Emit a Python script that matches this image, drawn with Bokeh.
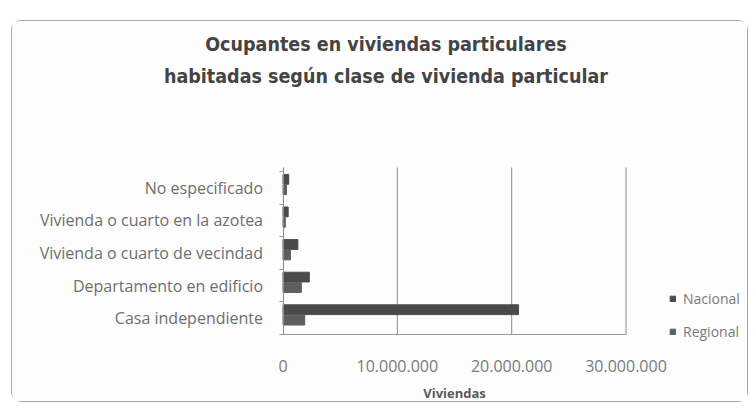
from bokeh.plotting import figure
from bokeh.models import Range1d, FixedTicker, Legend, LegendItem, Label, ColumnDataSource
from bokeh.transform import dodge
from bokeh.embed import file_html
from bokeh.resources import INLINE

# ---- data ----
categories = ["Casa independiente", "Departamento en edificio",
              "Vivienda o cuarto de vecindad", "Vivienda o cuarto en la azotea",
              "No especificado"]
nacional = [20600000, 2300000, 1300000, 450000, 500000]
regional = [1900000, 1600000, 650000, 200000, 300000]
x_ticks = [0, 10000000, 20000000, 30000000]
x_tick_labels = ["0", "10.000.000", "20.000.000", "30.000.000"]
series_names = ["Nacional", "Regional"]
title_lines = ["Ocupantes en viviendas particulares",
               "habitadas según clase de vivienda particular"]
x_axis_title = "Viviendas"

# ---- view settings (frame fills the whole canvas; axes sit at fixed locations) ----
X_VIEW = (-23660000, 40800000)
Y_VIEW = (-2.617, 9.10)
WALL_TOP = 4.62            # top of the plot wall (category units)
W, H = 737, 382

pos = list(range(len(categories)))
src = ColumnDataSource(dict(y=pos, nac=nacional, reg=regional))

p = figure(width=W, height=H, output_backend="svg", toolbar_location=None,
           y_range=Range1d(*Y_VIEW), x_range=Range1d(*X_VIEW),
           min_border_left=0, min_border_right=0, min_border_top=0,
           min_border_bottom=0, title=None)
p.margin = (20, 0, 0, 11)
p.styles = {"border": "1.5px solid #a8a8a8", "border-radius": "10px",
            "background-color": "#fdfdfd"}
p.background_fill_color = "#fdfdfd"
p.border_fill_color = "#fdfdfd"
p.outline_line_color = None

# vertical grid lines on the back wall
p.segment(x0=x_ticks[1:], x1=x_ticks[1:], y0=-0.5, y1=WALL_TOP,
          line_color="#8c8c8c", line_width=1)

r_nac = p.hbar(y=dodge("y", 0.26), right="nac", left=0, height=0.3,
               source=src, fill_color="#4a4a4a", line_color="#4a4a4a")
r_reg = p.hbar(y=dodge("y", -0.06), right="reg", left=0, height=0.3,
               source=src, fill_color="#5e5e5e", line_color="#5e5e5e")

# x axis
p.xaxis.fixed_location = -0.5
p.xaxis.ticker = FixedTicker(ticks=x_ticks)
p.xaxis.bounds = (x_ticks[0], x_ticks[-1])
p.xaxis.major_label_overrides = {t: l for t, l in zip(x_ticks, x_tick_labels)}
p.xaxis.major_tick_line_color = None
p.xaxis.minor_tick_line_color = None
p.xaxis.major_tick_out = 0
p.xaxis.major_label_standoff = 26
p.xaxis.major_label_text_font = "Open Sans"
p.xaxis.major_label_text_font_size = "16px"
p.xaxis.major_label_text_color = "#7a7a7a"
p.xaxis.axis_line_color = "#9a9a9a"

# axis title, centred under the 0..30M span
p.add_layout(Label(x=(x_ticks[0] + x_ticks[-1]) / 2, y=-2.29, text=x_axis_title,
                   text_align="center", text_baseline="middle",
                   text_font="Open Sans", text_font_style="bold",
                   text_font_size="13px", text_color="#5a5a5a"))

# y axis (categories)
p.yaxis.fixed_location = 0
p.yaxis.ticker = FixedTicker(ticks=pos, minor_ticks=[i - 0.5 for i in range(len(pos) + 1)])
p.yaxis.bounds = (-0.5, WALL_TOP)
p.yaxis.major_label_overrides = {i: c for i, c in zip(pos, categories)}
p.yaxis.major_tick_line_color = None
p.yaxis.major_tick_out = 0
p.yaxis.minor_tick_line_color = "#9a9a9a"
p.yaxis.minor_tick_out = 4
p.yaxis.minor_tick_in = 0
p.yaxis.major_label_standoff = 16
p.yaxis.major_label_text_font = "Open Sans"
p.yaxis.major_label_text_font_size = "16px"
p.yaxis.major_label_text_color = "#6e6e6e"
p.yaxis.axis_line_color = "#8a8a8a"

p.xgrid.grid_line_color = None
p.ygrid.grid_line_color = None

# title (two lines)
for txt, yy in zip(title_lines, [8.38, 7.40]):
    p.add_layout(Label(x=9000000, y=yy, text=txt, text_align="center",
                       text_baseline="middle", text_font="DejaVu Sans Condensed",
                       text_font_style="bold", text_font_size="19.5px",
                       text_color="#444444"))

legend = Legend(items=[LegendItem(label=series_names[0], renderers=[r_nac]),
                       LegendItem(label=series_names[1], renderers=[r_reg])],
                location=(657, 62), orientation="vertical",
                glyph_width=7, glyph_height=7, label_height=16, spacing=14,
                padding=0, margin=0, border_line_color=None,
                background_fill_alpha=0, label_text_font="Open Sans",
                label_text_font_size="14px", label_text_color="#7a7a7a",
                label_standoff=7)
p.add_layout(legend, "center")

open("out.html", "w").write(file_html(p, INLINE))
